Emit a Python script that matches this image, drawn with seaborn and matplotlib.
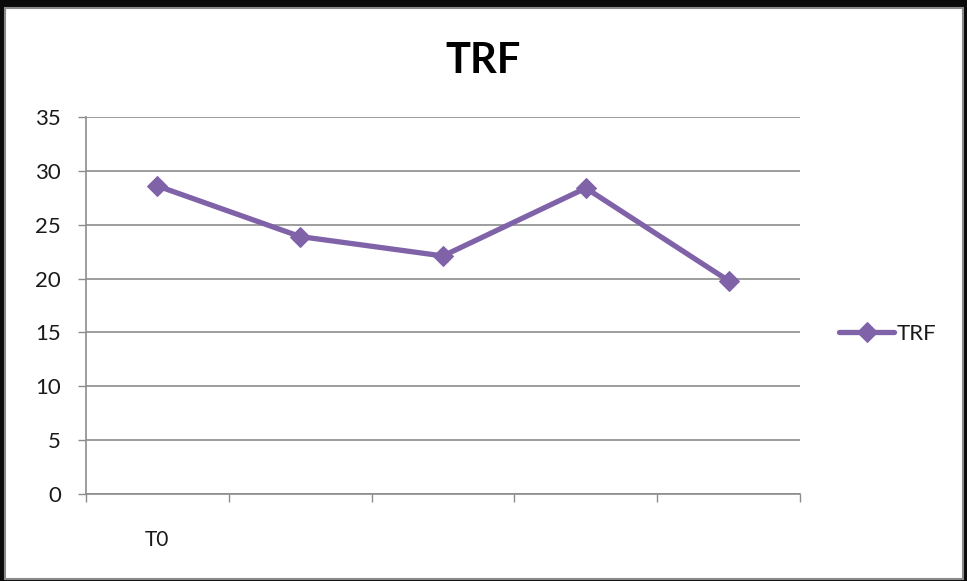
import matplotlib
matplotlib.use("Agg")
import matplotlib.pyplot as plt
from matplotlib.patches import Rectangle
from matplotlib.ticker import FixedLocator
import seaborn as sns
import pandas as pd

# Data
categories = ["T0", "T1", "T2", "T3", "T4"]
tick_labels = ["T0", "", "", "", ""]
trf_values = [28.6, 23.9, 22.1, 28.4, 19.8]
series_name = "TRF"

sns.set_theme(style="white")
plt.rcParams["font.family"] = ["Lato", "DejaVu Sans"]

purple = "#7F62A8"
grid_gray = "#8C8C8C"
text_color = "#1a1a1a"

df = pd.DataFrame({"pos": range(len(categories)), "value": trf_values, "series": series_name})

fig = plt.figure(figsize=(9.67, 5.81), dpi=100)
fig.patch.set_facecolor("#0a0a0a")

# white chart area framed by a dark border, kept beneath the axes
fig.patches.append(Rectangle((5 / 967, 2 / 581), 958 / 967, 571 / 581,
                             transform=fig.transFigure, facecolor="white",
                             edgecolor="#8a8a8a", linewidth=1.5, zorder=-10))

ax = fig.add_axes([86 / 967, 87 / 581, 714 / 967, 377 / 581])
ax.set_zorder(5)
ax.set_facecolor("white")

sns.lineplot(data=df, x="pos", y="value", hue="series", palette=[purple],
             marker="D", markersize=10, markeredgecolor=purple, linewidth=3.8,
             ax=ax, zorder=3)

ax.set_xlim(-0.5, len(categories) - 0.5)
ax.set_ylim(0, 35)
ax.set_yticks(range(0, 36, 5))
ax.yaxis.grid(True, color=grid_gray, linewidth=1.2)
ax.xaxis.grid(False)

ax.set_xticks(range(len(categories)))
ax.set_xticklabels(tick_labels)
ax.xaxis.set_minor_locator(FixedLocator([i - 0.5 for i in range(len(categories) + 1)]))
ax.tick_params(axis="x", which="major", length=0, pad=26, labelsize=15, labelcolor=text_color)
ax.tick_params(axis="x", which="minor", length=6, width=1, color=grid_gray, bottom=True)
ax.tick_params(axis="y", length=6, width=1, color=grid_gray, left=True, pad=12,
               labelsize=16, labelcolor=text_color)

for side in ["top", "right"]:
    ax.spines[side].set_visible(False)
for side in ["left", "bottom"]:
    ax.spines[side].set_color(grid_gray)
    ax.spines[side].set_linewidth(1.2)

ax.set_xlabel("")
ax.set_ylabel("")

fig.text(0.5, 0.895, "TRF", ha="center", va="center", fontsize=30,
         fontweight="bold", color="black")

handles, labels = ax.get_legend_handles_labels()
ax.legend(handles, labels, loc="center left", bbox_to_anchor=(830 / 967, 247 / 581),
          bbox_transform=fig.transFigure, frameon=False, fontsize=16,
          handlelength=2.5, handletextpad=0.1, borderaxespad=0, labelcolor=text_color)

fig.savefig("out.png", dpi=100, facecolor=fig.get_facecolor())
